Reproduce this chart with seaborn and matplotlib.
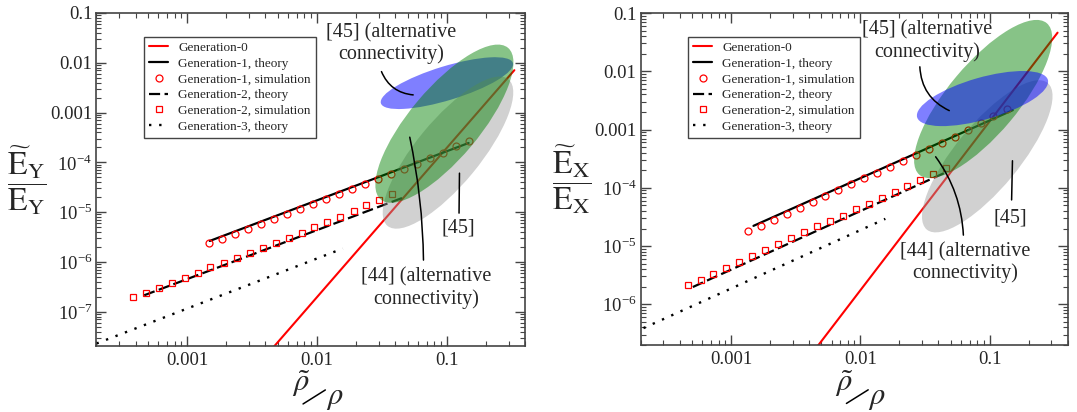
import numpy as np
import matplotlib
matplotlib.use("Agg")
import matplotlib.pyplot as plt
import matplotlib.transforms as mtransforms
from matplotlib.patches import Ellipse
from matplotlib.lines import Line2D
from matplotlib.ticker import FixedLocator, FixedFormatter, LogLocator, NullFormatter
import seaborn as sns

# ---------------- data ----------------
# Left panel (E_Y)
L_gen0_x = [0.0045, 0.331]
L_gen0_y = [1.8e-8, 7.1e-3]
L_gen1_th_x = [0.00149, 0.147]
L_gen1_th_y = [2.64e-6, 2.45e-4]
L_gen1_sim_x = [1.48e-3, 1.86e-3, 2.34e-3, 2.95e-3, 3.72e-3, 4.68e-3, 5.89e-3, 7.41e-3,
                9.33e-3, 0.0117, 0.0148, 0.0186, 0.0234, 0.0295, 0.0372, 0.0468,
                0.0589, 0.0741, 0.0933, 0.117, 0.148]
L_gen1_sim_y = [2.41e-6, 2.94e-6, 3.71e-6, 4.68e-6, 5.89e-6, 7.43e-6, 9.35e-6, 1.18e-5,
                1.49e-5, 1.87e-5, 2.36e-5, 2.97e-5, 3.74e-5, 4.71e-5, 5.94e-5, 7.48e-5,
                9.42e-5, 1.24e-4, 1.57e-4, 2.13e-4, 2.73e-4]
L_gen2_th_x = [4.66e-4, 0.0461]
L_gen2_th_y = [2.14e-7, 1.96e-5]
L_gen2_sim_x = [3.80e-4, 4.79e-4, 6.03e-4, 7.59e-4, 9.55e-4, 1.20e-3, 1.51e-3, 1.91e-3,
                2.40e-3, 3.02e-3, 3.80e-3, 4.79e-3, 6.03e-3, 7.59e-3, 9.55e-3, 0.0120,
                0.0151, 0.0191, 0.0240, 0.0302, 0.0380]
L_gen2_sim_y = [1.95e-7, 2.43e-7, 3.06e-7, 3.85e-7, 4.85e-7, 6.12e-7, 7.82e-7, 9.71e-7,
                1.22e-6, 1.54e-6, 1.94e-6, 2.45e-6, 3.09e-6, 3.89e-6, 4.97e-6, 6.27e-6,
                7.90e-6, 1.06e-5, 1.38e-5, 1.79e-5, 2.36e-5]
L_gen3_th_x = [2.0e-4, 0.0158]
L_gen3_th_y = [2.3e-8, 1.86e-6]

# Right panel (E_X)
R_gen0_x = [0.0047, 0.335]
R_gen0_y = [1.95e-7, 0.046]
R_gen1_th_x = [0.00149, 0.151]
R_gen1_th_y = [2.22e-5, 2.15e-3]
R_gen1_sim_x = [1.35e-3, 1.70e-3, 2.14e-3, 2.69e-3, 3.39e-3, 4.27e-3, 5.37e-3, 6.76e-3,
                8.51e-3, 0.0107, 0.0135, 0.0170, 0.0214, 0.0269, 0.0339, 0.0427,
                0.0537, 0.0676, 0.0851, 0.107, 0.135]
R_gen1_sim_y = [1.82e-5, 2.25e-5, 2.82e-5, 3.57e-5, 4.52e-5, 5.73e-5, 7.16e-5, 9.07e-5,
                1.15e-4, 1.46e-4, 1.82e-4, 2.31e-4, 2.92e-4, 3.70e-4, 4.63e-4, 5.94e-4,
                7.53e-4, 9.66e-4, 1.27e-3, 1.70e-3, 2.24e-3]
R_gen2_th_x = [5.06e-4, 0.047]
R_gen2_th_y = [1.98e-6, 1.89e-4]
R_gen2_sim_x = [4.61e-4, 5.81e-4, 7.31e-4, 9.20e-4, 1.16e-3, 1.46e-3, 1.84e-3, 2.31e-3,
                2.91e-3, 3.67e-3, 4.61e-3, 5.81e-3, 7.31e-3, 9.20e-3, 0.0116, 0.0146,
                0.0184, 0.0231, 0.0291, 0.0367, 0.0461]
R_gen2_sim_y = [2.11e-6, 2.64e-6, 3.35e-6, 4.24e-6, 5.31e-6, 6.73e-6, 8.52e-6, 1.08e-5,
                1.35e-5, 1.71e-5, 2.17e-5, 2.74e-5, 3.34e-5, 4.35e-5, 5.36e-5, 6.70e-5,
                8.39e-5, 1.06e-4, 1.35e-4, 1.75e-4, 2.22e-4]
R_gen3_th_x = [2.1e-4, 0.0156]
R_gen3_th_y = [3.9e-7, 2.93e-5]

# literature regions (centres in data units)
L_blue_c = (0.100, 3.9e-3)
L_green_c = (0.0957, 5.98e-4)
L_grey_c = (0.102, 1.57e-4)
R_blue_c = (0.088, 3.4e-3)
R_green_c = (0.089, 3.34e-3)
R_grey_c = (0.0958, 3.47e-4)

legend_labels = ["Generation-0", "Generation-1, theory", "Generation-1, simulation",
                 "Generation-2, theory", "Generation-2, simulation", "Generation-3, theory"]
x_tick_vals = [0.001, 0.01, 0.1]
x_tick_labels = ["0.001", "0.01", "0.1"]
L_y_tick_vals = [1e-7, 1e-6, 1e-5, 1e-4, 1e-3, 1e-2, 1e-1]
R_y_tick_vals = [1e-6, 1e-5, 1e-4, 1e-3, 1e-2, 1e-1]
y_tick_text = {1e-7: r"10$^{\mathregular{-7}}$", 1e-6: r"10$^{\mathregular{-6}}$",
               1e-5: r"10$^{\mathregular{-5}}$", 1e-4: r"10$^{\mathregular{-4}}$",
               1e-3: "0.001", 1e-2: "0.01", 1e-1: "0.1"}

# ---------------- style ----------------
sns.set_style("ticks")
plt.rcParams["font.family"] = ["Liberation Serif", "DejaVu Serif"]
plt.rcParams["mathtext.fontset"] = "stix"

W, H, DPI = 10.77, 4.12, 100
fig = plt.figure(figsize=(W, H), dpi=DPI)
axL = fig.add_axes([0.0896, 0.1602, 0.3979, 0.8083])
axR = fig.add_axes([0.5949, 0.1626, 0.3963, 0.8058])

SPINE = "#444444"
RED = "#ff0000"


def add_ellipse(ax, c, a_px, b_px, ang, color, alpha, z):
    tr = fig.dpi_scale_trans + mtransforms.ScaledTranslation(c[0], c[1], ax.transData)
    e = Ellipse((0, 0), 2 * a_px / DPI, 2 * b_px / DPI, angle=ang, transform=tr,
                facecolor=color, edgecolor="none", alpha=alpha, zorder=z)
    ax.add_patch(e)


def draw_xlabel(ax, rt_pos, r_pos, s0, s1):
    ax.text(rt_pos[0], rt_pos[1], r"$\tilde{\rho}$", transform=ax.transAxes,
            fontsize=22, ha="center", va="center", clip_on=False)
    ax.text(r_pos[0], r_pos[1], r"$\rho$", transform=ax.transAxes,
            fontsize=22, ha="center", va="center", clip_on=False)
    ax.add_line(Line2D([s0[0], s1[0]], [s0[1], s1[1]], transform=ax.transAxes,
                       color="black", lw=1.1, clip_on=False))


def draw_panel(ax, d, ylim, yticks, ylab):
    sns.lineplot(x=d["g0x"], y=d["g0y"], ax=ax, color=RED, lw=1.5, label=legend_labels[0])
    sns.lineplot(x=d["g1tx"], y=d["g1ty"], ax=ax, color="black", lw=1.6, label=legend_labels[1])
    sns.lineplot(x=d["g1sx"], y=d["g1sy"], ax=ax, color=RED, linestyle="none", marker="o",
                 markersize=5, markerfacecolor="none", markeredgecolor=RED,
                 markeredgewidth=0.9, label=legend_labels[2])
    sns.lineplot(x=d["g2tx"], y=d["g2ty"], ax=ax, color="black", lw=1.6,
                 linestyle=(0, (5, 2)), label=legend_labels[3])
    sns.lineplot(x=d["g2sx"], y=d["g2sy"], ax=ax, color=RED, linestyle="none", marker="s",
                 markersize=4.5, markerfacecolor="none", markeredgecolor=RED,
                 markeredgewidth=0.9, label=legend_labels[4])
    sns.lineplot(x=d["g3tx"], y=d["g3ty"], ax=ax, color="black", lw=1.7,
                 linestyle=(0, (1, 3.3)), label=legend_labels[5])

    ax.set_xscale("log")
    ax.set_yscale("log")
    ax.set_xlim(2.0e-4, 0.4)
    ax.set_ylim(*ylim)

    ax.xaxis.set_major_locator(FixedLocator(x_tick_vals))
    ax.xaxis.set_major_formatter(FixedFormatter(x_tick_labels))
    ax.xaxis.set_minor_locator(LogLocator(base=10, subs=np.arange(2, 10), numticks=20))
    ax.xaxis.set_minor_formatter(NullFormatter())
    ax.yaxis.set_major_locator(FixedLocator(yticks))
    ax.yaxis.set_major_formatter(FixedFormatter([y_tick_text[v] for v in yticks]))
    ax.yaxis.set_minor_locator(LogLocator(base=10, subs=np.arange(2, 10), numticks=20))
    ax.yaxis.set_minor_formatter(NullFormatter())
    ax.tick_params(which="both", direction="in", top=True, right=True, color=SPINE)
    ax.tick_params(which="major", length=7, width=1.0, labelsize=13.5, pad=3)
    ax.tick_params(axis="x", which="major", pad=4)
    ax.tick_params(which="minor", length=3.5, width=0.8)
    for s in ax.spines.values():
        s.set_color(SPINE)
        s.set_linewidth(1.2)
        s.set_visible(True)

    leg = ax.legend(loc="upper left", bbox_to_anchor=(0.11, 0.929), borderaxespad=0,
                    fontsize=9.5, frameon=True, fancybox=False, edgecolor=SPINE,
                    handlelength=1.5, handletextpad=0.75, labelspacing=0.27,
                    borderpad=0.38, framealpha=1)
    leg.get_frame().set_linewidth(1.0)
    leg.set_zorder(10)

    ax.set_ylabel(ylab, fontsize=23, rotation=0, va="center", ha="center")
    ax.yaxis.set_label_coords(-0.162, 0.498)
    ax.set_xlabel("")


dL = dict(g0x=L_gen0_x, g0y=L_gen0_y, g1tx=L_gen1_th_x, g1ty=L_gen1_th_y,
          g1sx=L_gen1_sim_x, g1sy=L_gen1_sim_y, g2tx=L_gen2_th_x, g2ty=L_gen2_th_y,
          g2sx=L_gen2_sim_x, g2sy=L_gen2_sim_y, g3tx=L_gen3_th_x, g3ty=L_gen3_th_y)
dR = dict(g0x=R_gen0_x, g0y=R_gen0_y, g1tx=R_gen1_th_x, g1ty=R_gen1_th_y,
          g1sx=R_gen1_sim_x, g1sy=R_gen1_sim_y, g2tx=R_gen2_th_x, g2ty=R_gen2_th_y,
          g2sx=R_gen2_sim_x, g2sy=R_gen2_sim_y, g3tx=R_gen3_th_x, g3ty=R_gen3_th_y)

draw_panel(axL, dL, (2.05e-8, 0.1), L_y_tick_vals,
           r"$\dfrac{\widetilde{\mathrm{E}}_{\mathrm{Y}}}{\mathrm{E}_{\mathrm{Y}}}$")
draw_panel(axR, dR, (2.0e-7, 0.1), R_y_tick_vals,
           r"$\dfrac{\widetilde{\mathrm{E}}_{\mathrm{X}}}{\mathrm{E}_{\mathrm{X}}}$")

draw_xlabel(axL, (0.477, -0.112), (0.556, -0.155), (0.482, -0.174), (0.534, -0.132))
draw_xlabel(axR, (0.4766, -0.116), (0.5537, -0.158), (0.482, -0.176), (0.533, -0.135))

BLUE, GREEN, GREY = "#0000ff", "#008000", "#999999"
# left: blue, grey, green (green on top)
add_ellipse(axL, L_blue_c, 69, 17, 17, BLUE, 0.5, 4)
add_ellipse(axL, L_grey_c, 95, 32, 50.5, GREY, 0.45, 4.1)
add_ellipse(axL, L_green_c, 99, 35, 50, GREEN, 0.47, 4.2)
# right: grey, green, blue (blue on top)
add_ellipse(axR, R_grey_c, 95, 32, 50.5, GREY, 0.45, 4)
add_ellipse(axR, R_green_c, 99, 35, 50, GREEN, 0.47, 4.1)
add_ellipse(axR, R_blue_c, 68, 21, 16, BLUE, 0.5, 4.2)

ANN = 14.5


def note(ax, txt, pos):
    ax.text(pos[0], pos[1], txt, transform=ax.transAxes, fontsize=ANN, ha="center",
            va="center", multialignment="center", linespacing=1.15, zorder=6)


def leader(ax, p0, p1, rad):
    ax.annotate("", xy=p1, xytext=p0, xycoords="axes fraction", textcoords="axes fraction",
                arrowprops=dict(arrowstyle="-", color="black", lw=1.1, shrinkA=0, shrinkB=0,
                                connectionstyle=f"arc3,rad={rad}"), zorder=6)


note(axL, "[45] (alternative\nconnectivity)", (0.687, 0.908))
leader(axL, (0.665, 0.824), (0.739, 0.754), 0.3)
note(axL, "[45]", (0.844, 0.353))
leader(axL, (0.847, 0.519), (0.846, 0.399), 0.0)
note(axL, "[44] (alternative\nconnectivity)", (0.769, 0.174))
leader(axL, (0.731, 0.627), (0.763, 0.258), -0.05)

note(axR, "[45] (alternative\nconnectivity)", (0.672, 0.916))
leader(axR, (0.654, 0.838), (0.723, 0.706), 0.3)
note(axR, "[45]", (0.867, 0.382))
leader(axR, (0.871, 0.555), (0.869, 0.437), 0.0)
note(axR, "[44] (alternative\nconnectivity)", (0.761, 0.248))
leader(axR, (0.691, 0.567), (0.756, 0.331), -0.15)

fig.savefig("out.png", dpi=DPI)
